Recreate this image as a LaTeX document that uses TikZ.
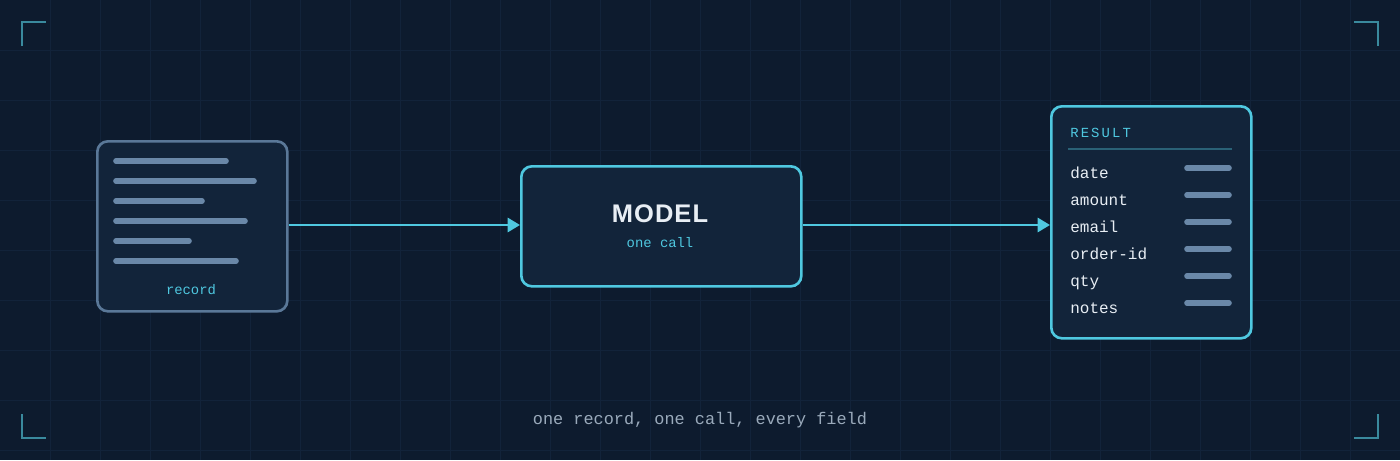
\documentclass[tikz,border=0pt]{standalone}
\usepackage{fontspec}
\setmainfont{Liberation Sans}
\setmonofont{Liberation Mono}
\usetikzlibrary{arrows.meta}
\definecolor{bg}{HTML}{0D1B2E}
\definecolor{gridc}{HTML}{12233A}
\definecolor{boxf}{HTML}{12243A}
\definecolor{cyan}{HTML}{4FC8E0}
\definecolor{bar}{HTML}{6A88A8}
\definecolor{recb}{HTML}{5A7898}
\definecolor{txt}{HTML}{E8EEF4}
\definecolor{cap}{HTML}{9AAABB}
\definecolor{corner}{HTML}{3A8A9E}
\begin{document}
\begin{tikzpicture}[x=0.02cm,y=-0.02cm,
  box/.style={draw=cyan,fill=boxf,line width=1.5pt,rounded corners=6pt},
  bar/.style={draw=bar,line width=3.2pt,line cap=round},
  conn/.style={draw=cyan,line width=1.5pt,-{Triangle[length=7pt,width=8pt]}},
  fld/.style={anchor=base west,inner sep=0pt,text=txt,font=\ttfamily\fontsize{9.1pt}{11pt}\selectfont},
  crn/.style={draw=corner,line width=1pt}]
\fill[bg] (0,0) rectangle (1400,460);
\useasboundingbox (0,0) rectangle (1400,460);
\foreach \x in {50,100,...,1350} \draw[gridc,line width=0.5pt] (\x,0)--(\x,460);
\foreach \y in {50,100,...,450} \draw[gridc,line width=0.5pt] (0,\y)--(1400,\y);
% corners
\draw[crn] (22,46)--(22,22)--(46,22);
\draw[crn] (1354,22)--(1378,22)--(1378,46);
\draw[crn] (22,414)--(22,438)--(46,438);
\draw[crn] (1354,438)--(1378,438)--(1378,414);
% record
\node[box,draw=recb,minimum width=190*0.02cm,minimum height=170*0.02cm,anchor=north west] (rec) at (96,140) {};
\draw[bar] (116,161)--(226,161);
\draw[bar] (116,181)--(254,181);
\draw[bar] (116,201)--(202,201);
\draw[bar] (116,221)--(245,221);
\draw[bar] (116,241)--(189,241);
\draw[bar] (116,261)--(236,261);
\node[text=cyan,font=\ttfamily\fontsize{7.9pt}{10pt}\selectfont] (reclab) at (191,290) {record};
% model
\node[box,minimum width=280*0.02cm,minimum height=120*0.02cm,anchor=north west] (model) at (520,165) {};
\node[text=txt,font=\bfseries\fontsize{14.5pt}{17pt}\selectfont] (mt) at (660,214) {M\kern0.6pt O\kern0.6pt D\kern0.6pt E\kern0.6pt L};
\node[text=cyan,font=\ttfamily\fontsize{7.9pt}{10pt}\selectfont] (ms) at (660,243) {one call};
% result
\node[box,minimum width=200*0.02cm,minimum height=232*0.02cm,anchor=north west] (res) at (1050,105) {};
\node[anchor=base west,inner sep=0pt,text=cyan,font=\ttfamily\fontsize{7.9pt}{10pt}\selectfont] (rt) at (1070,137) {R\kern1.2pt E\kern1.2pt S\kern1.2pt U\kern1.2pt L\kern1.2pt T};
\draw[draw=corner!60!boxf,line width=0.8pt] (1068,149)--(1232,149);
\foreach \n/\y in {date/173,amount/200,email/227,order-id/254,qty/281,notes/308}{
  \node[fld] at (1070,\y+5) {\n};
  \draw[bar] (1187,\y-5)--(1229,\y-5);
}
\draw[conn] (rec.east|-0,225) -- (model.west|-0,225);
\draw[conn] (model.east|-0,225) -- (res.west|-0,225);
\node[text=cap,font=\ttfamily\fontsize{9.6pt}{12pt}\selectfont] (cap) at (700,420) {one record, one call, every field};
\end{tikzpicture}
\end{document}
